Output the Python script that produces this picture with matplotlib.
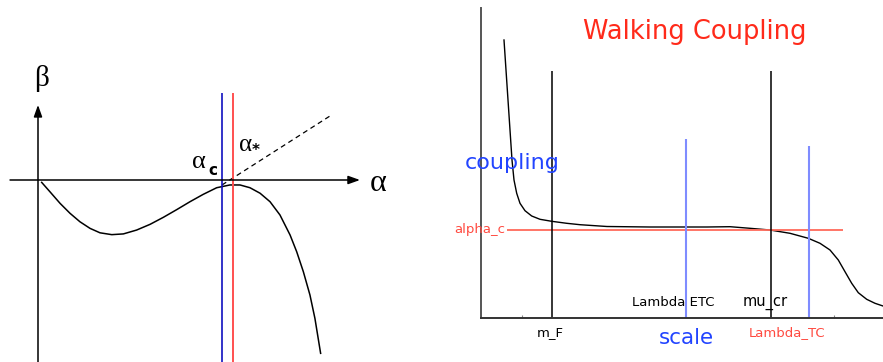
import numpy as np
import matplotlib
matplotlib.use("Agg")
import matplotlib.pyplot as plt

# left panel: beta function (alpha units: alpha_c = 1)
beta_alpha = [0.020, 0.065, 0.120, 0.174, 0.228, 0.283, 0.337, 0.401, 0.464,
              0.536, 0.609, 0.681, 0.754, 0.826, 0.898, 0.971, 1.043, 1.098,
              1.152, 1.207, 1.261, 1.315, 1.370, 1.406, 1.442, 1.478, 1.505, 1.536]
beta_vals = [-0.013, -0.064, -0.127, -0.181, -0.227, -0.263, -0.287, -0.297,
             -0.293, -0.272, -0.241, -0.203, -0.161, -0.118, -0.078, -0.042,
             -0.027, -0.027, -0.042, -0.072, -0.118, -0.190, -0.299, -0.390,
             -0.498, -0.625, -0.752, -0.942]
alpha_c = 1.0
alpha_star = 1.06
uv_alpha = [1.0, 1.587]      # dashed continuation
uv_beta = [-0.027, 0.348]

# right panel: walking coupling vs scale
scale = [0.23, 0.25, 0.27, 0.29, 0.31, 0.33, 0.357, 0.39, 0.44, 0.507, 0.59,
         0.707, 0.857, 0.99, 1.26, 1.69, 2.26, 2.49, 2.69, 2.89, 3.09, 3.273,
         3.39, 3.49, 3.573, 3.64, 3.707, 3.773, 3.857, 3.94, 4.02]
coupling = [2.78, 2.48, 2.18, 1.88, 1.58, 1.38, 1.247, 1.147, 1.073, 1.02,
            0.987, 0.967, 0.947, 0.933, 0.915, 0.91, 0.91, 0.913, 0.897, 0.88,
            0.847, 0.797, 0.747, 0.68, 0.58, 0.463, 0.347, 0.253, 0.187,
            0.147, 0.12]
alpha_c_level = 0.88
black_marks = [0.71, 2.90]     # m_F, mu_cr
black_tops = [2.47, 2.47]
blue_marks = [2.05, 3.28]      # Lambda_ETC, Lambda_TC
blue_tops = [1.79, 1.72]

fig = plt.figure(figsize=(8.83, 3.62), dpi=100)

# ---- left panel ----
ax1 = fig.add_axes([0, 0, 440 / 883, 1])
ax1.set_xlim(-38 / 184, 402 / 184)
ax1.set_ylim(-182 / 184, 180 / 184)
ax1.axis("off")

arr = dict(arrowstyle="-|>,head_length=0.7,head_width=0.25", color="black", lw=1.1,
           shrinkA=0, shrinkB=0)
ax1.annotate("", xy=(1.75, 0), xytext=(-0.152, 0), arrowprops=arr)
ax1.annotate("", xy=(0, 0.408), xytext=(0, -0.99), arrowprops=arr)

ax1.plot(beta_alpha, beta_vals, color="black", lw=1.1)
ax1.plot(uv_alpha, uv_beta, color="black", lw=0.9, ls=(0, (4, 3)))
ax1.vlines(alpha_c, -0.99, 0.473, color="#1010c0", lw=1.2)
ax1.vlines(alpha_star, -0.99, 0.473, color="#ff5050", lw=1.4)

serif = "Liberation Serif"
ax1.text(0.022, 0.554, "β", fontsize=21, family=serif, ha="center", va="center")
ax1.text(1.848, -0.02, "α", fontsize=23, family=serif, ha="center", va="center")
ax1.text(0.875, 0.1, "α", fontsize=19, family=serif, ha="center", va="center")
ax1.text(0.948, 0.054, "c", fontsize=11, family="DejaVu Sans", weight="bold",
         ha="center", va="center")
ax1.text(1.13, 0.19, "α", fontsize=18, family=serif, ha="center", va="center")
ax1.text(1.185, 0.16, "*", fontsize=11, family="DejaVu Sans", weight="bold",
         ha="center", va="center")

# ---- right panel ----
ax2 = fig.add_axes([481 / 883, 44 / 362, 402 / 883, 310 / 362])
ax2.set_xlim(0, 4.02)
ax2.set_ylim(0, 3.10)
for s in ["top", "right"]:
    ax2.spines[s].set_visible(False)
ax2.spines["left"].set_color("#555555")
ax2.spines["left"].set_linewidth(1.4)
ax2.spines["bottom"].set_color("#333333")
ax2.spines["bottom"].set_linewidth(1.4)
ax2.set_xticks([0.41, 3.53])
ax2.set_xticklabels([])
ax2.set_yticks([])
ax2.tick_params(axis="x", direction="in", length=2, color="#888888")

ax2.plot(scale, coupling, color="black", lw=1.0, clip_on=False)
ax2.hlines(alpha_c_level, 0.26, 3.62, color="#ff6a5a", lw=1.3)
ax2.vlines(black_marks, 0, black_tops, color="black", lw=1.1)
ax2.vlines(blue_marks, 0, blue_tops, color="#7f8cff", lw=1.5)

sans = "DejaVu Sans"
ax2.text(2.14, 2.86, "Walking Coupling", fontsize=18.5, color="#ff2a1a", family=sans,
         ha="center", va="center")
ax2.text(-0.16, 1.55, "coupling", fontsize=16, color="#2244ff", family=sans,
         ha="left", va="center", clip_on=False)
ax2.text(0.24, alpha_c_level, "alpha_c", fontsize=9.5, color="#ff4a40", family=sans,
         ha="right", va="center", clip_on=False)
ax2.text(2.05, -0.2, "scale", fontsize=15.5, color="#2244ff", family=sans,
         ha="center", va="center", clip_on=False)
ax2.text(0.69, -0.15, "m_F", fontsize=9.5, color="black", family=sans,
         ha="center", va="center", clip_on=False)
ax2.text(1.92, 0.15, "Lambda ETC", fontsize=9.5, color="black", family=sans,
         ha="center", va="center")
ax2.text(2.84, 0.16, "mu_cr", fontsize=10.5, color="black", family=sans,
         ha="center", va="center")
ax2.text(3.06, -0.15, "Lambda_TC", fontsize=9.5, color="#ff4a40", family=sans,
         ha="center", va="center", clip_on=False)

fig.savefig("out.png", dpi=100)
